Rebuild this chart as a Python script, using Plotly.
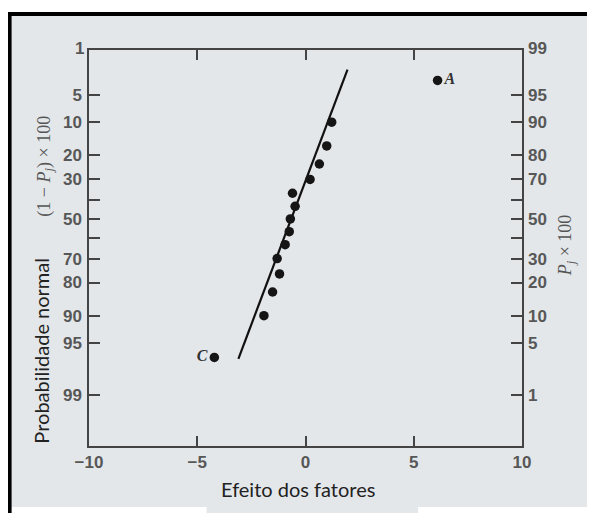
import plotly.graph_objects as go
from statistics import NormalDist

# ---------------- data ----------------
# Effects (x) and their normal probability position on the left scale, (1 - Pj) x 100
effects = [6.1, 1.21, 0.98, 0.64, 0.21, -0.60, -0.48, -0.70, -0.75, -0.94,
           -1.31, -1.20, -1.52, -1.92, -4.21]
one_minus_p = [3.33, 10, 16.67, 23.33, 30, 36.67, 43.33, 50, 56.67, 63.33,
               70, 76.67, 83.33, 90, 96.67]
point_labels = ["A", "", "", "", "", "", "", "", "", "", "", "", "", "", "C"]

# Straight reference line (end points)
line_x = [1.94, -3.10]
line_one_minus_p = [2.4, 96.8]

# Axis ticks
x_ticks = [-10, -5, 0, 5, 10]
x_labels = ["\u221210", "\u22125", "0", "5", "10"]
y_ticks = [5, 10, 20, 30, 40, 50, 60, 70, 80, 90, 95, 99]
left_labels = ["5", "10", "20", "30", "", "50", "", "70", "80", "90", "95", "99"]
right_labels = ["95", "90", "80", "70", "", "50", "", "30", "20", "10", "5", "1"]

# ---------------- helpers ----------------
nd = NormalDist()
def q(p):
    return nd.inv_cdf(p / 100.0)

OFF = 8                      # page body margin of the html page
W, H = 595 - OFF, 513 - OFF
L, R, T, B = 89.3, 521.7, 50, 446          # plot area in window pixels
def px(x):
    return (x - L) / (R - L)
def py(y):
    return (B - y) / (B - T)

BG = "#e4e7ea"
AX = "#444444"
TICKFONT = dict(family="Liberation Sans Narrow, Arial Narrow, Liberation Sans, Arial",
                size=17, color="#575757", weight="bold")

y_top, y_bot = -2.238, 3.007    # normal-quantile range of the plot area

fig = go.Figure()

fig.add_trace(go.Scatter(
    x=line_x, y=[q(v) for v in line_one_minus_p], mode="lines",
    line=dict(color="#111111", width=2.2), hoverinfo="skip", showlegend=False))

fig.add_trace(go.Scatter(
    x=effects, y=[q(v) for v in one_minus_p], mode="markers+text",
    marker=dict(size=9.5, color="#151515"),
    text=point_labels,
    textposition=["middle right" if t == "A" else "middle left" for t in point_labels],
    textfont=dict(family="Liberation Serif, Times New Roman, serif", size=16,
                  color="#333333", style="italic", weight="bold"),
    showlegend=False))

# invisible trace on the right axis so it is drawn
fig.add_trace(go.Scatter(
    x=effects, y=[q(v) for v in one_minus_p], mode="markers", yaxis="y2",
    marker=dict(size=1, opacity=0), hoverinfo="skip", showlegend=False))

fig.update_layout(
    width=W, height=H,
    margin=dict(l=L - OFF, r=595 - R, t=T - OFF, b=513 - B, pad=0),
    paper_bgcolor=BG, plot_bgcolor=BG,
    xaxis=dict(range=[-10, 10], tickvals=x_ticks, ticktext=x_labels,
               ticks="inside", ticklen=10, tickwidth=1.5, tickcolor=AX,
               showline=True, linecolor=AX, linewidth=1.5, mirror="ticks",
               showgrid=False, zeroline=False, tickfont=TICKFONT),
    yaxis=dict(range=[y_bot, y_top], tickvals=[q(v) for v in y_ticks],
               ticktext=left_labels, ticklabelstandoff=2,
               ticks="inside", ticklen=11, tickwidth=1.5, tickcolor=AX,
               showline=True, linecolor=AX, linewidth=1.5, mirror="ticks",
               showgrid=False, zeroline=False, tickfont=TICKFONT),
    yaxis2=dict(range=[y_bot, y_top], overlaying="y", side="right",
                tickvals=[q(v) for v in y_ticks], ticktext=right_labels,
                ticklabelstandoff=5,
                ticks="", showline=False, showgrid=False, zeroline=False,
                tickfont=TICKFONT),
)

def note(x, y, text, font, angle=0, xa="center", ya="middle"):
    return dict(x=px(x), y=py(y), xref="paper", yref="paper", text=text,
                showarrow=False, xanchor=xa, yanchor=ya, textangle=angle, font=font)

SERIF = dict(family="Liberation Serif, Times New Roman, serif", size=18, color="#555555")
SERIF_R = dict(family="Liberation Serif, Times New Roman, serif", size=18, color="#555555")
SANS = dict(family="Lato, Open Sans, sans-serif", size=20, color="#222222")
ann = [
    note(L - 3, 48, "1", TICKFONT, xa="right"),
    note(R + 4, 48, "99", TICKFONT, xa="left"),
    note(41, 351, "Probabilidade normal", SANS, angle=-90),
    note(45, 166, "(1 \u2212 <i>P</i><sub><i>j</i></sub>) \u00d7 100", SERIF, angle=-90),
    note(566, 245, "<i>P</i><sub><i>j</i></sub> \u00d7 100", SERIF_R, angle=-90),
    note(298.5, 489, "Efeito dos fatores", SANS),
]
fig.update_layout(annotations=ann)

def rect(x0, x1, y0, y1, color, layer="above"):
    return dict(type="rect", xref="paper", yref="paper", x0=px(x0), x1=px(x1),
                y0=py(y1), y1=py(y0), fillcolor=color, line=dict(width=0), layer=layer)

shapes = [
    rect(0, 600, 0, 12, "white", "below"),          # white strip above the frame
    rect(12, 600, 507, 520, "white", "below"),      # white strip at the bottom
    rect(206.7, 418, 505, 520, BG, "below"),        # title box stays grey
    rect(8, 12, 12, 520, "black"),                  # thick frame, left
    rect(8, 600, 12, 16, "black"),                  # thick frame, top
]
fig.update_layout(shapes=shapes)

fig.write_html("out.html")
